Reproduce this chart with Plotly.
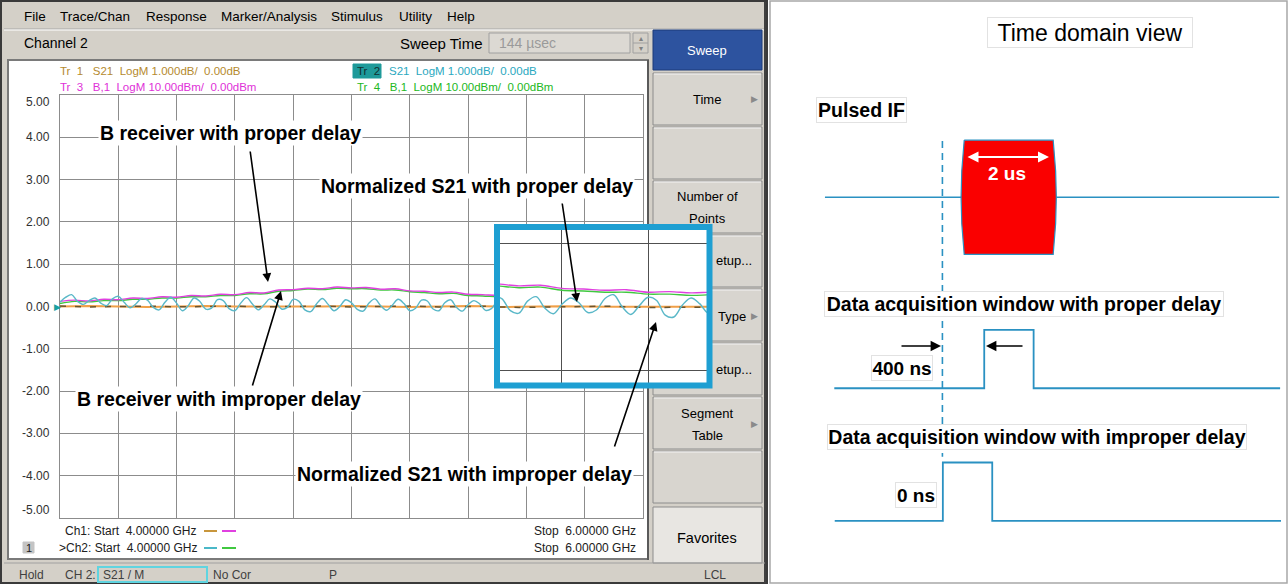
import plotly.graph_objects as go

# ---------------- data ----------------
START_GHZ = 4.0
STOP_GHZ = 6.0

# Tr 3 : B receiver with proper delay (dBm, magenta)
b_proper_dbm = [0.12, 0.15, 0.13, 0.17, 0.16, 0.20, 0.19, 0.23, 0.22, 0.26,
                0.25, 0.29, 0.28, 0.33, 0.32, 0.39, 0.40, 0.43, 0.42, 0.46,
                0.44, 0.45, 0.41, 0.42, 0.37, 0.36, 0.33, 0.34, 0.29, 0.28,
                0.26, 0.27, 0.23, 0.24, 0.22, 0.23, 0.22, 0.23, 0.22, 0.23, 0.22]
# Tr 4 : B receiver with improper delay (dBm, green)
b_improper_dbm = [0.07, 0.12, 0.11, 0.14, 0.14, 0.17, 0.17, 0.20, 0.20, 0.23,
                  0.23, 0.26, 0.26, 0.30, 0.30, 0.36, 0.38, 0.41, 0.40, 0.43,
                  0.42, 0.42, 0.39, 0.39, 0.35, 0.33, 0.30, 0.31, 0.26, 0.25,
                  0.23, 0.23, 0.20, 0.20, 0.18, 0.19, 0.18, 0.19, 0.18, 0.19, 0.18]
# Tr 2 : normalized S21 with improper delay (dB, cyan)
s21_improper_db = [0.10, 0.22, 0.28, 0.12, 0.05, 0.14, 0.20, 0.08, 0.02, 0.18,
                   0.24, 0.10, -0.03, 0.06, 0.19, 0.15, -0.02, -0.08, 0.10, 0.22,
                   0.08, -0.10, 0.02, 0.20, 0.12, -0.06, -0.04, 0.16, 0.14, -0.05,
                   -0.10, 0.08, 0.21, 0.06, -0.08, 0.04, 0.18, 0.10, -0.06, -0.02,
                   0.17, 0.12, -0.08, -0.12, 0.06, 0.19, 0.05, -0.10, 0.00, 0.16,
                   0.09, -0.07, -0.11, 0.08, 0.18, 0.02, -0.09, 0.03, 0.17, 0.07,
                   -0.10, -0.04, 0.15, 0.13, -0.06, -0.10, 0.09, 0.16, -0.02, -0.11,
                   0.04, 0.14, 0.06, -0.09, -0.05, 0.13, 0.19, 0.00, -0.12, 0.02,
                   0.15, 0.10, -0.13, -0.16, 0.03, 0.14, 0.05, -0.10, -0.06, 0.12,
                   0.17, 0.02, -0.09, 0.05, 0.15, 0.06, -0.08, -0.03, 0.13, 0.10, 0.00]
# Tr 1 : normalized S21 with proper delay (dB, orange) and its memory trace
s21_proper_db = [0.00, 0.01, 0.00, -0.01, 0.00, 0.01, 0.00, 0.00, -0.01, 0.00, 0.01,
                 0.00, -0.01, 0.00, 0.01, 0.00, 0.00, -0.01, 0.00, 0.01, 0.00]
s21_proper_mem_db = [0.01, -0.01, 0.00, 0.01, -0.01, 0.00, 0.01, -0.01, 0.00, 0.01, -0.01,
                     0.00, 0.01, -0.01, 0.00, 0.01, -0.01, 0.00, 0.01, -0.01, 0.00]

y_tick_values = [5, 4, 3, 2, 1, 0, -1, -2, -3, -4, -5]
y_tick_labels = ["5.00", "4.00", "3.00", "2.00", "1.00", "0.00",
                 "-1.00", "-2.00", "-3.00", "-4.00", "-5.00"]

# Timing diagram (schematic, microseconds; levels in pulse-height units)
if_baseline_t = [-2.64, 7.57]
if_baseline_v = [0, 0]
if_pulse_t = [0.49, 2.49, 2.545, 2.56, 2.545, 2.49, 0.49, 0.435, 0.42, 0.435, 0.49]
if_pulse_v = [0.98, 0.98, 0.45, 0.0, -0.45, -0.98, -0.98, -0.45, 0.0, 0.45, 0.98]
acq_proper_t = [-2.43, 0.94, 0.94, 2.05, 2.05, 7.59]
acq_proper_v = [0, 0, 1, 1, 0, 0]
acq_improper_t = [-2.42, 0.01, 0.01, 1.12, 1.12, 7.61]
acq_improper_v = [0, 0, 1, 1, 0, 0]
lane_if, lane_proper, lane_improper = 0.0, -3.276, -5.55
trigger_t = [0, 0]
trigger_v = [0.965, -4.45]


def sweep(n):
    return [START_GHZ + (STOP_GHZ - START_GHZ) * i / (n - 1) for i in range(n)]


# ---------------- helpers ----------------
W, H = 1288, 584
UI = "Liberation Sans, Arial, sans-serif"


def px(x):
    return x / W


def py(y):
    return 1 - y / H


shapes, annotations = [], []


def R(x0, y0, x1, y1, fill=None, line="#808080", width=1, layer="below"):
    shapes.append(dict(type="rect", xref="paper", yref="paper",
                       x0=px(x0), x1=px(x1), y0=py(y1), y1=py(y0),
                       fillcolor=fill if fill else "rgba(0,0,0,0)",
                       line=dict(color=line, width=width), layer=layer))


def L(x0, y0, x1, y1, color="#808080", width=1, layer="below"):
    shapes.append(dict(type="line", xref="paper", yref="paper",
                       x0=px(x0), x1=px(x1), y0=py(y0), y1=py(y1),
                       line=dict(color=color, width=width), layer=layer))


def T(x, y, text, size=12, color="#000000", xanchor="left", bold=False, **kw):
    if bold:
        text = "<b>" + text + "</b>"
    d = dict(x=px(x), y=py(y), xref="paper", yref="paper", text=text, showarrow=False,
             xanchor=xanchor, yanchor="middle", font=dict(size=size, color=color, family=UI))
    d.update(kw)
    annotations.append(d)


def ARROW(hx, hy, tx, ty, color="#000000", width=1.6, size=1.1, head=2, side="end"):
    annotations.append(dict(x=px(hx), y=py(hy), xref="paper", yref="paper", text="",
                            showarrow=True, ax=tx - hx, ay=ty - hy, axref="pixel", ayref="pixel",
                            arrowhead=head, arrowsize=size, arrowwidth=width, arrowcolor=color,
                            arrowside=side, standoff=0, startstandoff=0))


# ---------------- screenshot chrome ----------------
GRAY = "#d4d0c8"
R(1, 1, 767, 583, fill=GRAY, line="#3a3a3a", width=2)
L(4, 29, 765, 29, color="#a8a8a8")
L(4, 30, 765, 30, color="#ffffff")
for name, x in [("File", 22), ("Trace/Chan", 58), ("Response", 144), ("Marker/Analysis", 219),
                ("Stimulus", 329), ("Utility", 397), ("Help", 445)]:
    T(x, 16, name, size=13.5)
T(22, 43, "Channel 2", size=14)
T(485, 43, "Sweep Time", size=15, xanchor="right")
R(489, 33, 630, 53, fill="#dcd9d3", line="#a0a0a0")
T(497, 43, "144 µsec", size=14, color="#9a9a9a")
R(633, 33, 648, 53, fill=GRAY, line="#a0a0a0")
L(633, 43, 648, 43, color="#a0a0a0")
T(640.5, 38, "▴", size=8, color="#808080", xanchor="center")
T(640.5, 48, "▾", size=8, color="#808080", xanchor="center")

# plot window
R(8, 60, 648, 559, fill="#ffffff", line="#7a7a7a", width=2)
L(648, 60, 648, 560, color="#5a5a5a", width=2)

# softkeys
buttons = [(30, 70), (73, 125), (127, 179), (181, 233), (235, 287), (289, 341),
           (343, 395), (397, 449), (451, 503), (507, 563)]
for i, (a, b) in enumerate(buttons):
    if i == 0:
        R(653, a, 762, b, fill="#2d539f", line="#1d3a78")
    elif i == len(buttons) - 1:
        R(653, a, 762, b, fill="#e8e6e2", line="#8c8c8c")
    else:
        R(653, a, 762, b, fill="#d8d5cf", line="#8c8c8c")
        L(654, a + 1, 761, a + 1, color="#f4f4f4")
L(765, 2, 765, 583, color="#404040", width=2)
T(707, 50, "Sweep", size=13, color="#ffffff", xanchor="center")
T(707, 99, "Time", size=13, xanchor="center")
T(755, 99, "▶", size=9, color="#8a8a8a", xanchor="center")
T(707, 197, "Number of", size=13, xanchor="center")
T(707, 218, "Points", size=13, xanchor="center")
T(714, 260, "etup...", size=13)
T(716, 316, "Type", size=13)
T(755, 316, "▶", size=9, color="#8a8a8a", xanchor="center")
T(714, 369, "etup...", size=13)
T(707, 413, "Segment", size=13, xanchor="center")
T(707, 435, "Table", size=13, xanchor="center")
T(755, 424, "▶", size=9, color="#8a8a8a", xanchor="center")
T(707, 538, "Favorites", size=14.5, xanchor="center")

# status bar
L(4, 563, 765, 563, color="#a0a0a0")
R(98, 567, 207, 582, line="#5fd4e0", width=2)
T(17, 575, "Hold", size=12, color="#404040")
T(63, 575, "CH 2:", size=12, color="#404040")
T(101, 575, "S21 / M", size=12, color="#404040")
T(211, 575, "No Cor", size=12, color="#404040")
T(327, 575, "P", size=12, color="#404040")
T(715, 575, "LCL", size=12, color="#404040", xanchor="center")

# trace status lines
T(58, 71, "Tr  1   S21  LogM 1.000dB/  0.00dB", size=11.5, color="#b58a2e")
T(58, 87, "Tr  3   B,1  LogM 10.00dBm/  0.00dBm", size=11.5, color="#e030d8")
R(353, 64, 381, 78, fill="#1e9a9a", line="#1e9a9a")
T(355, 71, "Tr  2", size=11.5, color="#103030")
T(387, 71, "S21  LogM 1.000dB/  0.00dB", size=11.5, color="#2aa8c0")
T(355, 87, "Tr  4   B,1  LogM 10.00dBm/  0.00dBm", size=11.5, color="#22b822")

# bottom info lines
R(23, 542, 34, 553, fill="#c4c4c4", line="#c4c4c4")
T(28.5, 547.5, "1", size=11, color="#202020", xanchor="center")
T(63, 531, "Ch1: Start  4.00000 GHz", size=12, color="#202020")
T(57, 548, ">Ch2: Start  4.00000 GHz", size=12, color="#202020")
L(204, 531, 217, 531, color="#c8963c", width=2)
L(222, 531, 236, 531, color="#e040e0", width=2)
L(204, 548, 217, 548, color="#4ab8c8", width=2)
L(222, 548, 236, 548, color="#40c840", width=2)
T(638, 531, "Stop  6.00000 GHz", size=12, color="#202020", xanchor="right")
T(638, 548, "Stop  6.00000 GHz", size=12, color="#202020", xanchor="right")

# y tick labels (data axis)
for v, lab in zip(y_tick_values, y_tick_labels):
    shift = -7 if v == 5 else (8 if v == -5 else 0)
    annotations.append(dict(x=px(52), y=v, xref="paper", yref="y", text=lab, showarrow=False,
                            xanchor="right", yanchor="middle", yshift=shift,
                            font=dict(size=12, color="#303030", family=UI)))
T(57, 306.5, "▶", size=9, color="#1aa0a0", xanchor="center")

# inset frame
R(497, 227, 709.5, 385.5, line="#1e9fd2", width=6, layer="above")

# right panel frame
R(770, 1, 1287, 583, line="#a8a8a8", width=1.5, layer="above")

# ---------------- chart annotations ----------------
BOX = dict(bgcolor="#ffffff")
FS = 19.5
T(230, 133, "B receiver with proper delay", size=FS, bold=True, xanchor="center", **BOX)
T(219, 399, "B receiver with improper delay", size=FS, bold=True, xanchor="center", **BOX)
T(477, 186, "Normalized S21 with proper delay", size=FS, bold=True, xanchor="center", **BOX)
T(464, 474, "Normalized S21 with improper delay", size=FS, bold=True, xanchor="center", **BOX)
ARROW(268, 282, 250, 150)
ARROW(281, 291, 252, 387)
ARROW(577, 302, 562, 202)
ARROW(656, 322, 614, 448)

# right panel text
LBL = dict(bordercolor="#e2e2e2", borderwidth=1, borderpad=0, bgcolor="#ffffff")
T(1090, 32, "Time domain view", size=23, xanchor="center", width=204, height=29, **LBL)
T(861, 110, "Pulsed IF", size=19.5, bold=True, xanchor="center", width=89, height=24, **LBL)
T(1007, 174, "2 us", size=19, bold=True, color="#ffffff", xanchor="center")
T(1024, 304, "Data acquisition window with proper delay", size=FS, bold=True,
  xanchor="center", width=398, height=24, **LBL)
T(902, 368, "400 ns", size=19, bold=True, xanchor="center", width=60, height=24, **LBL)
T(1037, 437, "Data acquisition window with improper delay", size=FS, bold=True,
  xanchor="center", width=418, height=24, **LBL)
T(916, 495, "0 ns", size=19, bold=True, xanchor="center", width=40, height=24, **LBL)
ARROW(941, 346, 900, 346, width=1.6, size=1.3)
ARROW(986, 346, 1024, 346, width=1.6, size=1.3)
ARROW(1049, 157, 966, 157, color="#ffffff", width=2.2, size=1.0, side="end+start")

# ---------------- traces ----------------
fig = go.Figure()
C_TR1, C_MEM, C_TR2, C_TR3, C_TR4 = "#f0a048", "#6a5530", "#5ab8c8", "#e040e0", "#40c840"


def add_set(xa, ya):
    fig.add_trace(go.Scatter(x=sweep(len(s21_proper_db)), y=s21_proper_db, mode="lines",
                             line=dict(color=C_TR1, width=2), xaxis=xa, yaxis=ya, showlegend=False))
    fig.add_trace(go.Scatter(x=sweep(len(s21_proper_mem_db)), y=s21_proper_mem_db, mode="lines",
                             line=dict(color=C_MEM, width=1.5, dash="6px,9px"),
                             xaxis=xa, yaxis=ya, showlegend=False))
    fig.add_trace(go.Scatter(x=sweep(len(b_improper_dbm)), y=b_improper_dbm, mode="lines",
                             line=dict(color=C_TR4, width=1.4, shape="spline"),
                             xaxis=xa, yaxis=ya, showlegend=False))
    fig.add_trace(go.Scatter(x=sweep(len(b_proper_dbm)), y=b_proper_dbm, mode="lines",
                             line=dict(color=C_TR3, width=1.4, shape="spline"),
                             xaxis=xa, yaxis=ya, showlegend=False))
    fig.add_trace(go.Scatter(x=sweep(len(s21_improper_db)), y=s21_improper_db, mode="lines",
                             line=dict(color=C_TR2, width=1.4, shape="spline", smoothing=1.0),
                             xaxis=xa, yaxis=ya, showlegend=False))


add_set("x", "y")
add_set("x2", "y2")

BLUE = "#2a91c2"
fig.add_trace(go.Scatter(x=if_baseline_t, y=[v + lane_if for v in if_baseline_v], mode="lines",
                         line=dict(color=BLUE, width=1.6), xaxis="x3", yaxis="y3", showlegend=False))
fig.add_trace(go.Scatter(x=trigger_t, y=trigger_v, mode="lines",
                         line=dict(color=BLUE, width=1.6, dash="7px,5px"),
                         xaxis="x3", yaxis="y3", showlegend=False))
fig.add_trace(go.Scatter(x=if_pulse_t, y=[v + lane_if for v in if_pulse_v], mode="lines",
                         fill="toself", fillcolor="#fa0000", line=dict(color=BLUE, width=1.2),
                         xaxis="x3", yaxis="y3", showlegend=False))
fig.add_trace(go.Scatter(x=acq_proper_t, y=[v + lane_proper for v in acq_proper_v], mode="lines",
                         line=dict(color=BLUE, width=1.8), xaxis="x3", yaxis="y3", showlegend=False))
fig.add_trace(go.Scatter(x=acq_improper_t, y=[v + lane_improper for v in acq_improper_v], mode="lines",
                         line=dict(color=BLUE, width=1.8), xaxis="x3", yaxis="y3", showlegend=False))

GRID = "#8c8c8c"
fig.update_layout(
    width=W, height=H, margin=dict(l=0, r=0, t=0, b=0),
    paper_bgcolor="#ffffff", plot_bgcolor="#ffffff", showlegend=False,
    shapes=shapes, annotations=annotations,
    xaxis=dict(domain=[px(60), px(643)], range=[START_GHZ, STOP_GHZ], dtick=0.2, tick0=4,
               showgrid=True, gridcolor=GRID, gridwidth=1.2, showticklabels=False, ticks="",
               zeroline=False, showline=True, linecolor=GRID, linewidth=1.2, mirror=True,
               fixedrange=True),
    yaxis=dict(domain=[py(518), py(95)], range=[-5, 5], dtick=1, tick0=0,
               showgrid=True, gridcolor=GRID, gridwidth=1.2, showticklabels=False, ticks="",
               zeroline=False, showline=True, linecolor=GRID, linewidth=1.2, mirror=True,
               fixedrange=True),
    xaxis2=dict(domain=[px(500), px(707)], range=[5.256, 5.737], dtick=0.2, tick0=4,
                anchor="y2", showgrid=True, gridcolor="#505050", gridwidth=1.2,
                showticklabels=False, ticks="", zeroline=False, showline=False),
    yaxis2=dict(domain=[py(383), py(230)], range=[-1.2, 1.21], dtick=1, tick0=0,
                anchor="x2", showgrid=True, gridcolor="#505050", gridwidth=1.2,
                showticklabels=False, ticks="", zeroline=False, showline=False),
    xaxis3=dict(domain=[px(772), px(1285)], range=[-3.83, 7.70], anchor="y3", visible=False),
    yaxis3=dict(domain=[py(582), py(2)], range=[-6.60, 3.35], anchor="x3", visible=False),
)

fig.write_html("out.html", config={"displayModeBar": False},
               post_script="document.body.style.margin='0px';document.body.style.overflow='hidden';")
